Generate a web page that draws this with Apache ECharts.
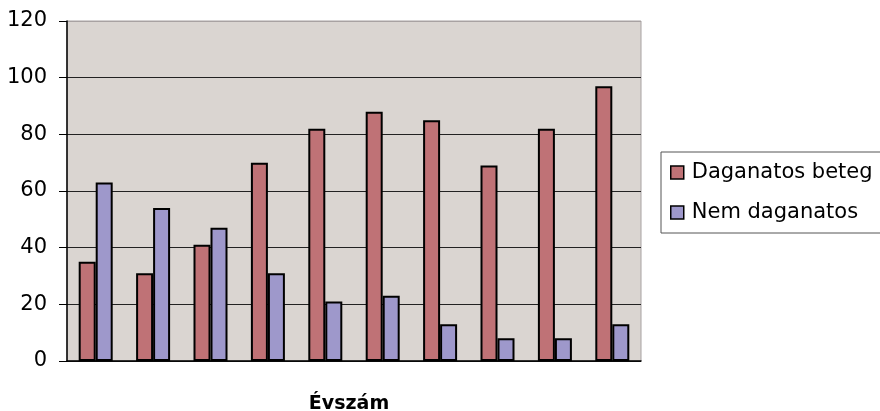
<!DOCTYPE html>
<html>
<head>
<meta charset="utf-8">
<script src="https://cdn.jsdelivr.net/npm/echarts@6/dist/echarts.min.js"></script>
<style>html,body{margin:0;padding:0;background:#fff;}#c{width:880px;height:411px;}</style>
</head>
<body>
<div id="c"></div>
<script>
// Category slots (no labels are shown in the reference)
const categories = ['1','2','3','4','5','6','7','8','9','10'];
const daganatosBeteg = [35, 31, 41, 70, 82, 88, 85, 69, 82, 97];
const nemDaganatos = [63, 54, 47, 31, 21, 23, 13, 8, 8, 13];
const yTicks = [0, 20, 40, 60, 80, 100, 120];

const chart = echarts.init(document.getElementById('c'), null, {renderer: 'canvas'});
const font = 'DejaVu Sans';
chart.setOption({
  animation: false,
  backgroundColor: '#ffffff',
  grid: {
    left: 67, right: 239, top: 21, bottom: 50,
    outerBoundsMode: 'none',
    containLabel: false,
    show: true, backgroundColor: '#DAD5D1', borderColor: '#A8A2A2', borderWidth: 1
  },
  legend: {
    orient: 'vertical',
    left: 661, top: 152,
    padding: [10, 30, 10, 9],
    itemGap: 19,
    itemWidth: 13, itemHeight: 13,
    icon: 'rect',
    backgroundColor: '#ffffff',
    borderColor: '#555555', borderWidth: 1,
    borderRadius: 0,
    textStyle: {fontFamily: font, fontSize: 21, color: '#000', padding: [0, 0, 0, 3]},
    itemStyle: {borderColor: '#000', borderWidth: 1.5},
    data: ['Daganatos beteg', 'Nem daganatos']
  },
  xAxis: {
    type: 'category',
    data: categories,
    name: 'Évszám',
    nameLocation: 'middle',
    nameGap: 34,
    nameTextStyle: {fontFamily: font, fontSize: 19, fontWeight: 'bold', color: '#000', verticalAlign: 'top', padding: [0, 10, 0, 0]},
    axisLine: {show: true, lineStyle: {color: '#000', width: 1.5}},
    axisTick: {show: false},
    axisLabel: {show: false},
    splitLine: {show: false}
  },
  yAxis: {
    type: 'value',
    min: yTicks[0], max: yTicks[yTicks.length - 1], interval: 20,
    axisLine: {show: true, lineStyle: {color: '#000', width: 1.5}},
    axisTick: {show: true, length: 8, lineStyle: {color: '#000', width: 1}},
    axisLabel: {fontFamily: font, fontSize: 21, color: '#000', margin: 20},
    splitLine: {show: true, lineStyle: {color: ['#222', '#222', '#222', '#222', '#222', '#222', '#A8A2A2'], width: 1}}
  },
  series: [
    {
      name: 'Daganatos beteg', type: 'bar', data: daganatosBeteg,
      barWidth: 17, barGap: '0%',
      itemStyle: {color: '#BF7276', borderColor: '#000', borderWidth: 2}
    },
    {
      name: 'Nem daganatos', type: 'bar', data: nemDaganatos,
      barWidth: 17, barGap: '0%',
      itemStyle: {color: '#9E98CB', borderColor: '#000', borderWidth: 2}
    }
  ]
});
</script>
</body>
</html>
